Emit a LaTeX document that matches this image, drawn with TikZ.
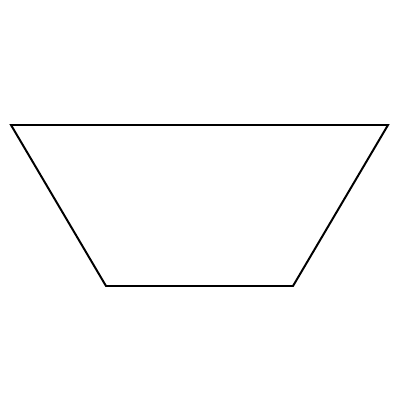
\documentclass[tikz,border=0pt]{standalone}
\usepackage{tikz}
\usetikzlibrary{positioning}

\begin{document}
\begin{tikzpicture}[x=0.025cm, y=-0.025cm,
				outline/.style={draw, line width=1.4pt, line join=miter}]
				\useasboundingbox (0, 0) rectangle (400, 400);
				\coordinate (topleft) at (11, 125);
				\coordinate (topright) at (388, 125);
				\coordinate (botright) at (293, 286);
				\coordinate (botleft) at (106, 286);
				
				\draw[outline] (topleft) -- (topright) -- (botright) -- (botleft) -- cycle;
			\end{tikzpicture}
\end{document}
